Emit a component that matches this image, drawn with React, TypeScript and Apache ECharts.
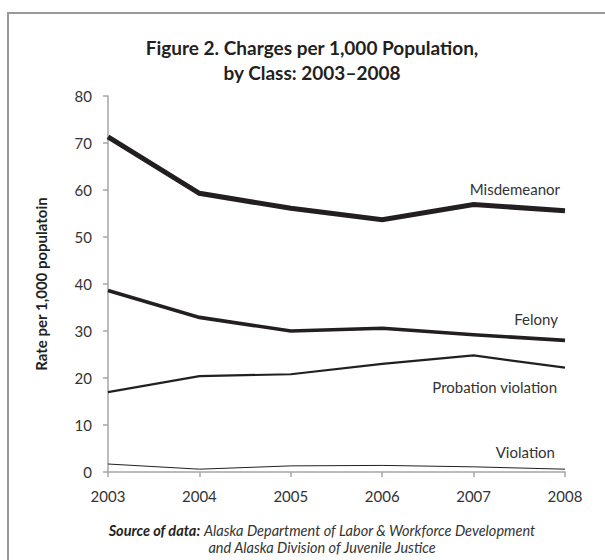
import React, { useEffect, useRef } from "react";
import * as echarts from "echarts";

const years = ["2003", "2004", "2005", "2006", "2007", "2008"];
const misdemeanor = [71.3, 59.3, 56.1, 53.7, 56.9, 55.6];
const felony = [38.6, 32.9, 30.0, 30.6, 29.2, 28.0];
const probation = [17.0, 20.4, 20.8, 23.0, 24.8, 22.2];
const violation = [1.7, 0.6, 1.3, 1.4, 1.1, 0.6];
const yTicks = [0, 80, 10];

const FONT = "Lato, 'Open Sans', sans-serif";
const INK = "#231f20";

export default function App() {
  const ref = useRef<HTMLDivElement>(null);
  useEffect(() => {
    if (!ref.current) return;
    const chart = echarts.init(ref.current, null, { renderer: "svg" });
    const mk = (name: string, data: number[], width: number) => ({
      name,
      type: "line",
      data,
      symbol: "none",
      lineStyle: { color: INK, width, join: "miter" },
      itemStyle: { color: INK },
      z: 3,
    });
    chart.setOption({
      animation: false,
      backgroundColor: "#fff",
      textStyle: { fontFamily: FONT },
      grid: { left: 108, right: 40, top: 96, bottom: 88, containLabel: false },
      xAxis: {
        type: "category",
        data: years,
        boundaryGap: false,
        axisLine: { lineStyle: { color: "#a6a6a6", width: 1.5 } },
        axisTick: { show: true, length: 5, alignWithLabel: true, lineStyle: { color: "#a6a6a6", width: 1.5 } },
        axisLabel: { color: "#333", fontSize: 15, fontFamily: FONT, margin: 16 },
        splitLine: { show: false },
      },
      yAxis: {
        type: "value",
        min: yTicks[0],
        max: yTicks[1],
        interval: yTicks[2],
        axisLine: { show: true, lineStyle: { color: "#a6a6a6", width: 1.5 } },
        axisTick: { show: true, length: 5, lineStyle: { color: "#a6a6a6", width: 1.5 } },
        axisLabel: { color: "#333", fontSize: 15, fontFamily: FONT, margin: 16 },
        splitLine: { show: false },
        name: "Rate per 1,000 populatoin",
        nameLocation: "middle",
        nameGap: 60,
        nameRotate: 90,
        nameTextStyle: { color: INK, fontSize: 15, fontWeight: "bold", fontFamily: FONT },
      },
      series: [
        mk("Misdemeanor", misdemeanor, 5),
        mk("Felony", felony, 3.6),
        mk("Probation violation", probation, 2.2),
        mk("Violation", violation, 1),
      ],
      graphic: [
        {
          type: "rect",
          shape: { x: 8, y: 13, width: 700, height: 700 },
          style: { fill: "none", stroke: "#999", lineWidth: 2 },
          silent: true,
        },
        {
          type: "text",
          x: 312,
          y: 35,
          style: {
            text: "Figure 2. Charges per 1,000 Population,\nby Class: 2003–2008",
            fontFamily: FONT,
            fontWeight: "bold",
            fontSize: 19,
            lineHeight: 25,
            fill: INK,
            align: "center",
            verticalAlign: "top",
          },
        },
        { type: "text", x: 560, y: 189, style: { text: "Misdemeanor", fontFamily: FONT, fontSize: 15, fill: "#333", align: "right", verticalAlign: "middle" } },
        { type: "text", x: 558, y: 319, style: { text: "Felony", fontFamily: FONT, fontSize: 15, fill: "#333", align: "right", verticalAlign: "middle" } },
        { type: "text", x: 557, y: 387, style: { text: "Probation violation", fontFamily: FONT, fontSize: 15, fill: "#333", align: "right", verticalAlign: "middle" } },
        { type: "text", x: 555, y: 452, style: { text: "Violation", fontFamily: FONT, fontSize: 15, fill: "#333", align: "right", verticalAlign: "middle" } },
        {
          type: "text",
          x: 322,
          y: 530,
          style: {
            rich: {
              b: { fontFamily: FONT, fontSize: 14.5, fontStyle: "italic", fontWeight: "bold", fill: INK },
              i: { fontFamily: FONT, fontSize: 14.5, fontStyle: "italic", fill: "#333" },
            },
            text: "{b|Source of data:} {i|Alaska Department of Labor & Workforce Development}",
            align: "center",
            verticalAlign: "middle",
          },
        },
        {
          type: "text",
          x: 322,
          y: 547,
          style: {
            text: "and Alaska Division of Juvenile Justice",
            fontFamily: FONT,
            fontSize: 14.5,
            fontStyle: "italic",
            fill: "#333",
            align: "center",
            verticalAlign: "middle",
          },
        },
      ],
    });
    return () => chart.dispose();
  }, []);
  return (
    <div
      ref={ref}
      style={{ position: "absolute", left: 0, top: 0, width: 605, height: 560 }}
    />
  );
}
